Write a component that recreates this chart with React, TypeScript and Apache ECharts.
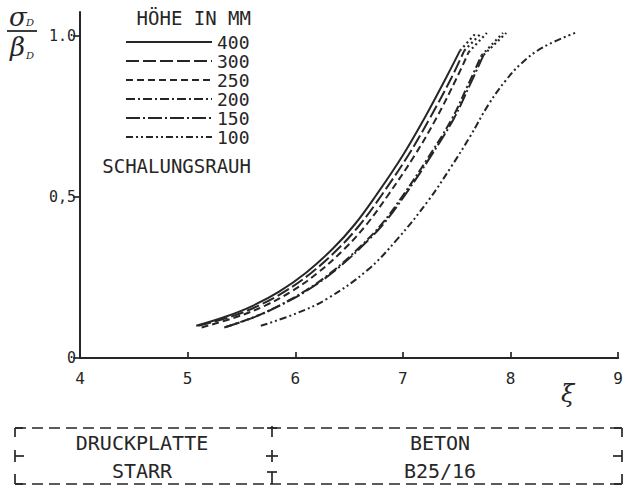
import React, { useEffect, useRef } from 'react';
import * as echarts from 'echarts';

// ---- data ----
const xTickValues = [4, 5, 6, 7, 8, 9];
const yTickValues = [0, 0.5, 1.0];
const yTickLabels = ['0', '0,5', '1.0'];
const heightNames = ['400', '300', '250', '200', '150', '100'];

const h400 = [[5.08, 0.1], [5.35, 0.128], [5.61, 0.163], [5.85, 0.206], [6.1, 0.265], [6.35, 0.34], [6.55, 0.414], [6.75, 0.505], [7.0, 0.63], [7.2, 0.745], [7.4, 0.87], [7.53, 0.955]];
const h300 = [[5.1, 0.1], [5.4, 0.128], [5.66, 0.163], [5.9, 0.206], [6.15, 0.265], [6.4, 0.34], [6.6, 0.414], [6.8, 0.505], [7.05, 0.63], [7.25, 0.745], [7.45, 0.87], [7.57, 0.955]];
const h250 = [[5.13, 0.095], [5.46, 0.128], [5.72, 0.163], [5.96, 0.206], [6.21, 0.265], [6.46, 0.34], [6.66, 0.414], [6.86, 0.505], [7.11, 0.63], [7.31, 0.745], [7.5, 0.87], [7.61, 0.95]];
const h200 = [[5.34, 0.095], [5.6, 0.125], [5.85, 0.163], [6.1, 0.21], [6.35, 0.27], [6.6, 0.345], [6.8, 0.415], [7.0, 0.505], [7.22, 0.615], [7.45, 0.74], [7.6, 0.845], [7.73, 0.94]];
const h150 = [[5.36, 0.097], [5.62, 0.127], [5.87, 0.165], [6.12, 0.212], [6.37, 0.272], [6.62, 0.347], [6.82, 0.417], [7.02, 0.507], [7.24, 0.617], [7.47, 0.742], [7.62, 0.847], [7.75, 0.942]];
const h100 = [[5.68, 0.1], [6.02, 0.14], [6.3, 0.185], [6.67, 0.273], [6.95, 0.37], [7.24, 0.491], [7.45, 0.595], [7.62, 0.686], [7.8, 0.79], [7.95, 0.86], [8.1, 0.915], [8.3, 0.965], [8.6, 1.01]];

const t400 = [[7.53, 0.955], [7.68, 1.01]];
const t300 = [[7.57, 0.955], [7.73, 1.01]];
const t250 = [[7.61, 0.95], [7.78, 1.01]];
const t200 = [[7.73, 0.94], [7.93, 1.01]];
const t150 = [[7.75, 0.942], [7.96, 1.01]];

const curves = [h400, h300, h250, h200, h150, h100];
const tails = [t400, t300, t250, t200, t150, null];

// ---- styles ----
const INK = '#262626';
const MONO = '"DejaVu Sans Mono", monospace';
const dashes: any[] = [
  'solid',
  [13, 4],
  [7, 4],
  [9, 3, 2, 3],
  [14, 3, 2, 3],
  [7, 3, 2, 3, 2, 3],
];

function boxGraphics() {
  const L = 15, R = 622, T = 428, B = 484, M = 272, MID = 456;
  const ls = { stroke: INK, lineWidth: 1.7 };
  const dash = { stroke: INK, lineWidth: 1.7, lineDash: [11, 6] };
  const ln = (x1: number, y1: number, x2: number, y2: number, style: any = ls) => ({
    type: 'line', shape: { x1, y1, x2, y2 }, style, silent: true,
  });
  const txt = (x: number, y: number, text: string) => ({
    type: 'text', x, y, style: { text, font: `20px ${MONO}`, fill: INK, align: 'center', verticalAlign: 'middle' },
  });
  return [
    ln(L, T, R, T, dash),
    ln(L, B, R, B, dash),
    ln(L, T, L, T + 9), ln(L, T, L + 8, T),
    ln(L, MID - 6, L, MID + 6), ln(L, MID, L + 9, MID),
    ln(L, B - 10, L, B), ln(L, B, L + 8, B),
    ln(R, T, R, T + 9), ln(R - 8, T, R, T),
    ln(R, MID - 6, R, MID + 6), ln(R - 9, MID, R, MID),
    ln(R, B - 10, R, B), ln(R - 8, B, R, B),
    ln(M, T - 2, M, T + 9), ln(M - 5, T, M + 5, T),
    ln(M - 6, MID, M + 6, MID), ln(M, MID - 6, M, MID + 6),
    ln(M, B - 12, M, B), ln(M - 5, B - 12, M + 5, B - 12),
    txt(142, 443, 'DRUCKPLATTE'),
    txt(142, 471, 'STARR'),
    txt(440, 443, 'BETON'),
    txt(440, 471, 'B25/16'),
  ];
}

function labelGraphics() {
  const serif = '"DejaVu Serif", serif';
  return [
    { type: 'text', x: 9, y: 4, style: { text: 'σ', font: `italic 26px ${serif}`, fill: INK } },
    { type: 'text', x: 26, y: 17, style: { text: 'D', font: `italic 10px ${serif}`, fill: INK } },
    { type: 'line', shape: { x1: 7, y1: 31, x2: 37, y2: 31 }, style: { stroke: INK, lineWidth: 1.8 } },
    { type: 'text', x: 10, y: 34, style: { text: 'β', font: `italic 26px ${serif}`, fill: INK } },
    { type: 'text', x: 26, y: 50, style: { text: 'D', font: `italic 10px ${serif}`, fill: INK } },
    { type: 'text', x: 561, y: 382, style: { text: 'ξ', font: `italic 24px ${serif}`, fill: INK } },
    { type: 'text', x: 251, y: 18, style: { text: 'HÖHE IN MM', font: `19px ${MONO}`, fill: INK, align: 'right', verticalAlign: 'middle' } },
    { type: 'text', x: 251, y: 166, style: { text: 'SCHALUNGSRAUH', font: `19px ${MONO}`, fill: INK, align: 'right', verticalAlign: 'middle' } },
  ];
}

export default function App() {
  const ref = useRef<HTMLDivElement>(null);
  useEffect(() => {
    if (!ref.current) return;
    const chart = echarts.init(ref.current, null, { renderer: 'svg' });
    const series: any[] = [];
    curves.forEach((data, i) => {
      series.push({
        name: heightNames[i],
        type: 'line',
        data,
        symbol: 'none',
        smooth: 0.4,
        lineStyle: { color: INK, width: 2, type: dashes[i] },
        itemStyle: { color: INK },
      });
    });
    tails.forEach((data, i) => {
      if (!data) return;
      series.push({
        name: heightNames[i] + ' tail',
        type: 'line',
        data,
        symbol: 'none',
        lineStyle: { color: INK, width: 2.2, type: [2, 3] },
      });
    });
    chart.setOption({
      animation: false,
      backgroundColor: '#ffffff',
      grid: { left: 80, right: 2, top: 12, bottom: 133 },
      legend: {
        data: heightNames,
        orient: 'vertical',
        left: 125,
        top: 33,
        padding: 0,
        itemGap: 1,
        itemWidth: 86,
        itemHeight: 14,
        itemStyle: { opacity: 0 },
        textStyle: { fontFamily: MONO, fontSize: 18, color: INK },
        selectedMode: false,
      },
      xAxis: {
        type: 'value',
        min: 4,
        max: 9,
        interval: 1,
        axisLine: { lineStyle: { color: INK, width: 2 } },
        axisTick: { inside: true, length: 6, lineStyle: { color: INK, width: 1.7 } },
        axisLabel: { margin: 12, fontFamily: MONO, fontSize: 16, color: INK, formatter: (v: number) => (xTickValues.includes(v) ? String(v) : '') },
        splitLine: { show: false },
      },
      yAxis: {
        type: 'value',
        min: 0,
        max: 1.075,
        axisLine: { show: true, lineStyle: { color: INK, width: 2 } },
        axisTick: { show: true, length: 7, customValues: yTickValues, lineStyle: { color: INK, width: 1.7 } },
        axisLabel: {
          margin: 4,
          fontFamily: MONO,
          fontSize: 15,
          color: INK,
          customValues: yTickValues,
          formatter: (v: number) => {
            const k = yTickValues.findIndex((t) => Math.abs(t - v) < 1e-6);
            return k >= 0 ? yTickLabels[k] : '';
          },
        },
        splitLine: { show: false },
      },
      graphic: [...labelGraphics(), ...boxGraphics()],
      series,
    });
    return () => chart.dispose();
  }, []);
  return <div ref={ref} style={{ position: 'fixed', left: 0, top: 0, width: 626, height: 491, background: '#fff' }} />;
}
